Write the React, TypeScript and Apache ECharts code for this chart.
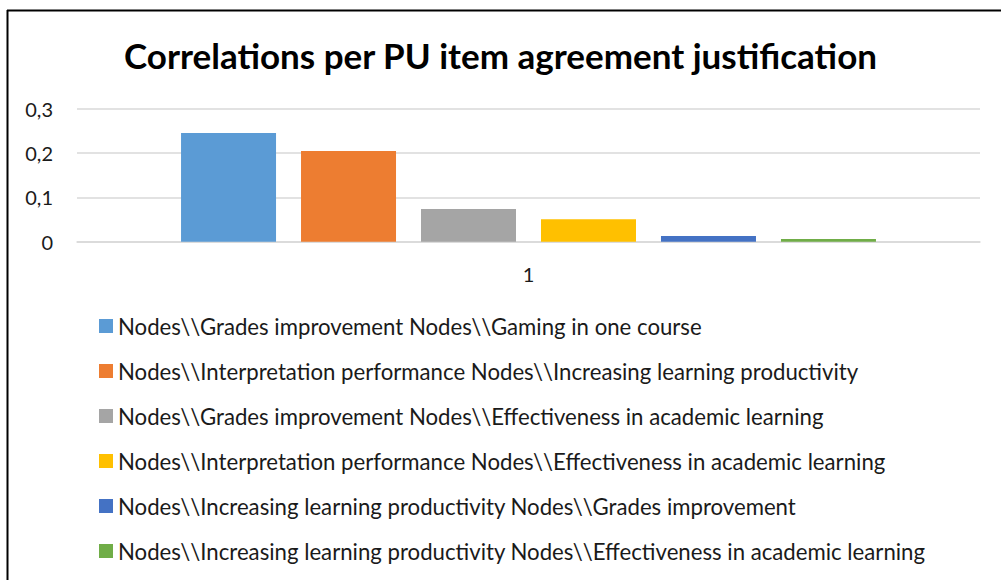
import React, { useEffect, useRef } from "react";
import * as echarts from "echarts";

const categories = ["1"];
const seriesNames = [
  "Nodes\\\\Grades improvement Nodes\\\\Gaming in one course",
  "Nodes\\\\Interpretation performance Nodes\\\\Increasing learning productivity",
  "Nodes\\\\Grades improvement Nodes\\\\Effectiveness in academic learning",
  "Nodes\\\\Interpretation performance Nodes\\\\Effectiveness in academic learning",
  "Nodes\\\\Increasing learning productivity Nodes\\\\Grades improvement",
  "Nodes\\\\Increasing learning productivity Nodes\\\\Effectiveness in academic learning",
];
const seriesValues = [0.246, 0.205, 0.074, 0.051, 0.013, 0.006];
const seriesColors = ["#5B9BD5", "#ED7D31", "#A5A5A5", "#FFC000", "#4472C4", "#70AD47"];
const yTicks = { min: 0, max: 0.3, interval: 0.1 };

const FONT = "Lato";

export default function App() {
  const ref = useRef<HTMLDivElement>(null);
  useEffect(() => {
    if (!ref.current) return;
    const chart = echarts.init(ref.current, null, { renderer: "svg" });
    chart.setOption({
      animation: false,
      backgroundColor: "#ffffff",
      textStyle: { fontFamily: FONT },
      title: {
        text: "Correlations per PU item agreement justification",
        left: "center",
        top: 37,
        padding: 0,
        textStyle: { fontFamily: FONT, fontWeight: "bold", fontSize: 35, color: "#000000" },
      },
      grid: { left: 77, right: 21, top: 109, bottom: 338.3, containLabel: false },
      xAxis: {
        type: "category",
        data: categories,
        axisLine: { lineStyle: { color: "#d9d9d9", width: 1.5 } },
        axisTick: { show: false },
        axisLabel: { fontFamily: FONT, fontSize: 20, color: "#1a1a1a", margin: 22 },
      },
      yAxis: {
        type: "value",
        min: yTicks.min,
        max: yTicks.max,
        interval: yTicks.interval,
        axisLine: { show: false },
        axisTick: { show: false },
        splitLine: { lineStyle: { color: "#d9d9d9", width: 1.5 } },
        axisLabel: {
          fontFamily: FONT,
          fontSize: 20,
          color: "#1a1a1a",
          margin: 24,
          formatter: (v: number) => (Math.round(v * 10) / 10).toString().replace(".", ","),
        },
      },
      legend: {
        orient: "vertical",
        left: 99,
        top: 315,
        padding: 0,
        itemWidth: 14,
        itemHeight: 14,
        itemGap: 23,
        icon: "rect",
        textStyle: { fontFamily: FONT, fontSize: 22.2, color: "#1a1a1a", lineHeight: 22 },
        data: seriesNames,
      },
      series: seriesNames.map((name, i) => ({
        name,
        type: "bar",
        data: [seriesValues[i]],
        barWidth: 95,
        barGap: "26.3%",
        itemStyle: { color: seriesColors[i] },
      })),
      graphic: [
        { type: "line", shape: { x1: 7, y1: 10.5, x2: 1001, y2: 10.5 }, style: { stroke: "#000", lineWidth: 2 } },
        { type: "line", shape: { x1: 7.5, y1: 10, x2: 7.5, y2: 580 }, style: { stroke: "#000", lineWidth: 2 } },
      ],
    });
    return () => chart.dispose();
  }, []);
  return <div ref={ref} style={{ position: "fixed", left: 0, top: 0, width: 1001, height: 580 }} />;
}
